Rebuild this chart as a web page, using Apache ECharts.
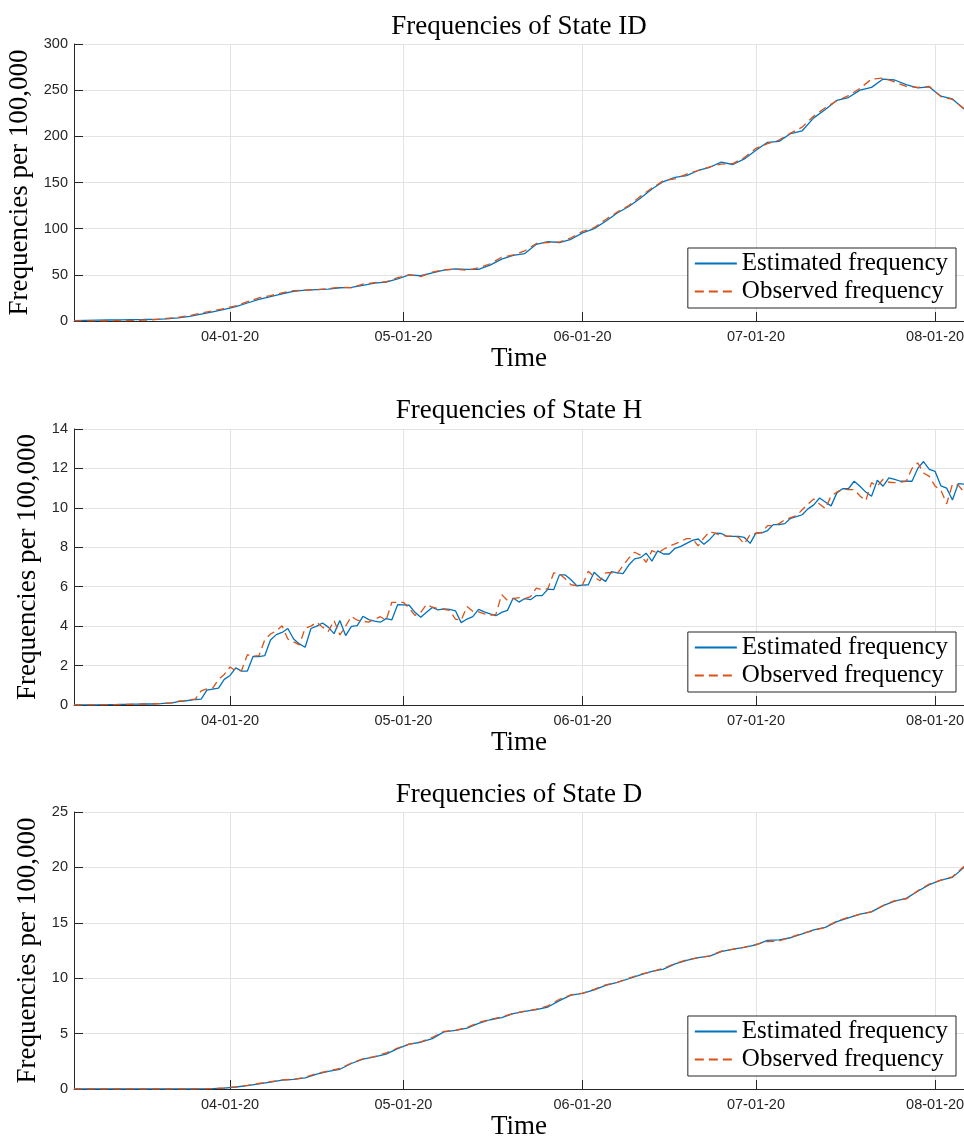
<!DOCTYPE html>
<html lang="en">
<head>
  <meta charset="UTF-8">
  <title>Frequencies of States</title>
  <script src="https://cdn.jsdelivr.net/npm/echarts@6/dist/echarts.min.js"></script>
  <style>
    html, body { margin: 0; padding: 0; background: #fff; }
  </style>
</head>
<body>
  <div id="main" style="width: 964px;height:1139px;"></div>
  <script>
    // daily series start on 2020-03-05 (day 0), last day 2020-08-06 (day 154)
    var startDate = Date.UTC(2020, 2, 5);
    var lastDay = 154;
    var dayMs = 86400000;
    var tickDates = [Date.UTC(2020, 3, 1), Date.UTC(2020, 4, 1), Date.UTC(2020, 5, 1), Date.UTC(2020, 6, 1), Date.UTC(2020, 7, 1)];
    var titles = ['Frequencies of State ID', 'Frequencies of State H', 'Frequencies of State D'];
    var seriesNames = ['Estimated frequency', 'Observed frequency'];

    // State ID, one value every 2 days
    var idEstimated = [
      0.3, 0.6, 0.9, 1.1, 1.3, 1.5, 1.6, 1.8, 2.3, 3.3,
      5, 7.5, 10, 12.5, 15.5, 19.5, 23.5, 26.5, 29.5, 32,
      33.5, 34, 34.5, 36, 36.5, 38.5, 41, 42, 45.5, 50,
      49, 52, 55, 56.5, 56, 56, 60.5, 67, 71, 73,
      83, 86, 85, 88.5, 95.5, 100, 108, 117, 124, 133,
      143, 151, 155.5, 157.5, 163, 166.5, 172, 169.5, 175.5, 185,
      193.5, 194.5, 203, 206, 220, 229, 239, 242, 250, 253,
      262, 261, 256, 252.5, 253.5, 243.5, 240.5, 229.5
    ];
    var idObserved = [
      0.1, 0.1, 0.2, 0.3, 0.4, 0.6, 0.9, 1.5, 2.8, 4,
      5.8, 8.5, 11, 13.5, 16.5, 21, 25, 27.5, 30.5, 33,
      33.5, 34, 35, 36.5, 36, 40, 41.5, 42.5, 47, 50,
      48, 53, 55.5, 56, 55, 57.5, 62, 69, 71.5, 76,
      84, 85, 85.5, 90, 97, 101, 110, 118, 125, 135,
      144, 152, 154, 159, 163, 167, 170, 170.5, 177, 187,
      192, 196, 203.5, 210, 222, 231, 238.5, 244, 252, 262,
      263, 259, 254, 253, 254, 243, 240, 230
    ];

    // State H, one value per day
    var hEstimated = [
      0, 0, 0.01, 0.01, 0.01, 0.02, 0.02, 0.02, 0.03, 0.03, 0.04, 0.04, 0.05, 0.05, 0.06, 0.07, 0.09, 0.11,
      0.17, 0.2, 0.24, 0.28, 0.3, 0.75, 0.8, 0.86, 1.3, 1.5,
      1.88, 1.72, 1.72, 2.47, 2.45, 2.5, 3.3, 3.57, 3.68, 3.88,
      3.35, 3.1, 2.93, 3.88, 4.0, 4.16, 3.95, 3.62, 4.29, 3.52,
      3.99, 4.03, 4.5, 4.33, 4.25, 4.2, 4.38, 4.32, 5.09, 5.08,
      5.06, 4.7, 4.45, 4.7, 4.95, 4.82, 4.88, 4.85, 4.78, 4.18,
      4.36, 4.48, 4.85, 4.72, 4.62, 4.53, 4.7, 4.8, 5.43, 5.22,
      5.4, 5.34, 5.55, 5.55, 5.88, 5.85, 6.6, 6.6, 6.35, 6.05,
      6.08, 6.1, 6.73, 6.45, 6.27, 6.77, 6.7, 6.66, 7.1, 7.41,
      7.47, 7.7, 7.3, 7.82, 7.66, 7.66, 7.95, 8.05, 8.2, 8.35,
      8.42, 8.15, 8.4, 8.72, 8.7, 8.55, 8.55, 8.55, 8.5, 8.2,
      8.73, 8.73, 8.85, 9.15, 9.15, 9.2, 9.47, 9.55, 9.65, 9.95,
      10.15, 10.5, 10.3, 10.1, 10.76, 10.97, 10.97, 11.35, 11.1, 10.8,
      10.59, 11.4, 11.1, 11.52, 11.45, 11.35, 11.35, 11.35, 12.0, 12.35,
      11.95, 11.85, 11.12, 11.0, 10.4, 11.23, 11.2
    ];
    var hObserved = [
      0, 0, 0, 0.01, 0.01, 0.01, 0.02, 0.02, 0.02, 0.03, 0.03, 0.04, 0.04, 0.05, 0.06, 0.07, 0.08, 0.12,
      0.19, 0.22, 0.27, 0.3, 0.72, 0.82, 0.86, 1.3, 1.55, 1.93,
      1.72, 1.75, 2.55, 2.47, 2.5, 3.3, 3.6, 3.75, 4.02, 3.35,
      3.2, 3.05, 3.9, 4.0, 4.2, 3.95, 3.73, 4.29, 3.55, 4.0,
      4.5, 4.3, 4.25, 4.2, 4.35, 4.48, 4.3, 5.21, 5.2, 5.21,
      4.9, 4.55, 4.7, 5.1, 4.96, 4.88, 4.85, 4.8, 4.36, 4.3,
      5.0, 4.75, 4.72, 4.62, 4.55, 4.6, 5.6, 5.3, 5.4, 5.45,
      5.4, 5.5, 5.93, 5.85, 5.9, 6.7, 6.65, 6.4, 6.1, 6.05,
      6.1, 6.78, 6.5, 6.3, 6.7, 6.72, 6.66, 7.07, 7.45, 7.75,
      7.6, 7.24, 7.83, 7.7, 7.9, 8.05, 8.17, 8.3, 8.44, 8.44,
      8.07, 8.48, 8.8, 8.7, 8.6, 8.57, 8.57, 8.5, 8.17, 8.65,
      8.7, 8.75, 9.1, 9.1, 9.2, 9.4, 9.5, 9.6, 9.9, 10.2,
      10.45, 10.2, 9.96, 10.6, 10.8, 10.95, 10.92, 10.92, 10.6, 10.36,
      11.28, 11.1, 11.45, 11.3, 11.28, 11.3, 11.35, 12.0, 12.28, 11.77,
      11.6, 11.1, 10.9, 10.2, 11.2, 11.15, 10.8
    ];

    // State D, one value every 2 days
    var dEstimated = [
      0, 0, 0, 0, 0, 0, 0, 0, 0, 0,
      0, 0.01, 0.03, 0.08, 0.18, 0.3, 0.46, 0.62, 0.8, 0.87,
      1.0, 1.35, 1.6, 1.78, 2.3, 2.7, 2.9, 3.15, 3.65, 4.05,
      4.22, 4.55, 5.15, 5.3, 5.5, 5.93, 6.25, 6.45, 6.8, 7.0,
      7.16, 7.4, 7.98, 8.48, 8.63, 8.95, 9.35, 9.62, 9.95, 10.3,
      10.62, 10.82, 11.3, 11.6, 11.85, 12.0, 12.4, 12.62, 12.78, 13.0,
      13.42, 13.46, 13.65, 14.0, 14.36, 14.58, 15.1, 15.45, 15.78, 15.98,
      16.55, 16.95, 17.2, 17.85, 18.45, 18.85, 19.1, 20.0
    ];
    var dObserved = [
      0, 0, 0, 0, 0, 0, 0, 0, 0, 0,
      0, 0.01, 0.04, 0.1, 0.2, 0.32, 0.5, 0.66, 0.82, 0.88,
      1.05, 1.4, 1.62, 1.85, 2.35, 2.72, 2.92, 3.25, 3.7, 4.05,
      4.25, 4.65, 5.2, 5.3, 5.55, 6.0, 6.28, 6.5, 6.82, 7.02,
      7.2, 7.5, 8.1, 8.5, 8.65, 9.0, 9.4, 9.62, 10.0, 10.35,
      10.6, 10.9, 11.32, 11.65, 11.85, 12.02, 12.45, 12.6, 12.8, 13.05,
      13.3, 13.35, 13.7, 14.05, 14.3, 14.6, 15.15, 15.5, 15.75, 16.0,
      16.55, 17.0, 17.15, 17.9, 18.5, 18.85, 19.15, 20.1
    ];

    var yMax = [300, 14, 25];
    var yStep = [50, 2, 5];

    // layout of the three panels (pixels)
    var gridTop = [44, 429, 812];
    var gridHeight = [277, 276, 277];
    var titleTop = [13, 397, 781];
    var legendTop = [248, 632, 1016];
    var yNameGap = [40, 31, 31];

    var blue = '#0072BD';
    var orange = '#D95319';
    var axisColor = '#262626';
    var gridColor = '#e3e3e3';
    var serif = '"Liberation Serif", "Times New Roman", serif';
    var sans = '"Liberation Sans", Arial, sans-serif';

    // x axis is counted in days since startDate
    var tickDays = tickDates.map(function (t) { return (t - startDate) / dayMs; });

    function toPairs(values, step) {
      return values.map(function (v, i) { return [i * step, v]; });
    }
    function pad(n) { return n < 10 ? '0' + n : '' + n; }
    function fmtDay(v) {
      var d = new Date(startDate + v * dayMs);
      return pad(d.getUTCMonth() + 1) + '-' + pad(d.getUTCDate()) + '-' + String(d.getUTCFullYear()).slice(2);
    }

    var panelData = [
      [toPairs(idEstimated, 2), toPairs(idObserved, 2)],
      [toPairs(hEstimated, 1), toPairs(hObserved, 1)],
      [toPairs(dEstimated, 2), toPairs(dObserved, 2)]
    ];

    var option = {
      animation: false,
      backgroundColor: '#fff',
      title: [],
      legend: [],
      grid: [],
      xAxis: [],
      yAxis: [],
      series: []
    };

    for (var i = 0; i < 3; i++) {
      option.title.push({
        text: titles[i],
        left: 519,
        top: titleTop[i],
        textAlign: 'center',
        padding: 0,
        textStyle: { fontFamily: serif, fontSize: 27, fontWeight: 'normal', color: '#000' }
      });
      option.grid.push({ left: 74, right: 0, top: gridTop[i], height: gridHeight[i], outerBoundsMode: 'none' });
      option.xAxis.push({
        type: 'value',
        gridIndex: i,
        min: 0,
        max: lastDay,
        name: 'Time',
        nameLocation: 'middle',
        nameGap: 24,
        nameTextStyle: { fontFamily: serif, fontSize: 27, color: '#000' },
        axisLine: { lineStyle: { color: axisColor, width: 1 } },
        axisTick: { inside: true, length: 9, customValues: tickDays, lineStyle: { color: axisColor } },
        axisLabel: { customValues: tickDays, formatter: fmtDay, color: axisColor, fontFamily: sans, fontSize: 14.5, margin: 8 },
        splitLine: { show: true, lineStyle: { color: gridColor, width: 1 } }
      });
      option.yAxis.push({
        type: 'value',
        gridIndex: i,
        min: 0,
        max: yMax[i],
        interval: yStep[i],
        name: 'Frequencies per 100,000',
        nameLocation: 'middle',
        nameGap: yNameGap[i],
        nameTextStyle: { fontFamily: serif, fontSize: 27, color: '#000' },
        axisLine: { show: true, lineStyle: { color: axisColor, width: 1 } },
        axisTick: { show: true, inside: true, length: 9, lineStyle: { color: axisColor } },
        axisLabel: { color: axisColor, fontFamily: sans, fontSize: 14.5, margin: 6 },
        splitLine: { show: true, lineStyle: { color: gridColor, width: 1 } }
      });
      option.legend.push({
        data: [
          { name: seriesNames[0] },
          { name: seriesNames[1], lineStyle: { type: [9, 5] } }
        ],
        orient: 'vertical',
        right: 8,
        top: legendTop[i],
        itemWidth: 42,
        itemHeight: 14,
        itemGap: 3,
        padding: [3, 8, 4, 6],
        backgroundColor: '#fff',
        borderColor: axisColor,
        borderWidth: 1,
        borderRadius: 0,
        selectedMode: false,
        itemStyle: { opacity: 0 },
        textStyle: { fontFamily: serif, fontSize: 25, color: '#000' }
      });
      option.series.push({
        name: seriesNames[0],
        type: 'line',
        xAxisIndex: i,
        yAxisIndex: i,
        data: panelData[i][0],
        symbol: 'none',
        showSymbol: false,
        lineStyle: { color: blue, width: 1.3 },
        itemStyle: { color: blue }
      });
      option.series.push({
        name: seriesNames[1],
        type: 'line',
        xAxisIndex: i,
        yAxisIndex: i,
        data: panelData[i][1],
        symbol: 'none',
        showSymbol: false,
        lineStyle: { color: orange, width: 1.3, type: [8, 5] },
        itemStyle: { color: orange }
      });
    }

    var myChart = echarts.init(document.getElementById('main'));
    myChart.setOption(option);
  </script>
</body>
</html>
